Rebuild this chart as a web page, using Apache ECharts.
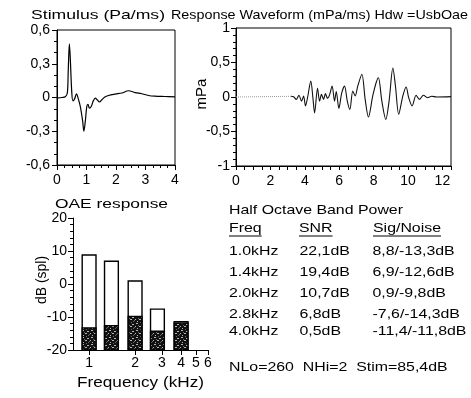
<!DOCTYPE html>
<html>
<head>
<meta charset="utf-8">
<script src="https://cdn.jsdelivr.net/npm/echarts@6/dist/echarts.min.js"></script>
<style>
  html, body { margin: 0; padding: 0; background: #fff; }
  #chart { width: 471px; height: 398px; }
</style>
</head>
<body>
<div id="chart"></div>
<script>
// stimulus click (ms / Pa)
const stimMs = [0, 0.17, 0.28, 0.35, 0.38, 0.42, 0.45, 0.5, 0.54, 0.6, 0.66, 0.72, 0.79, 0.87, 0.91, 0.96, 1.01, 1.05, 1.1, 1.16, 1.23, 1.3, 1.36, 1.44, 1.52, 1.61, 1.75, 1.97, 2.2, 2.42, 2.65, 2.87, 3.1, 3.32, 3.66, 4.0]
const stimPa = [-0.005, 0, 0.006, 0.04, 0.23, 0.476, 0.35, 0.05, -0.03, -0.01, 0.033, -0.01, -0.08, -0.21, -0.3, -0.21, -0.08, -0.06, -0.095, -0.08, -0.03, -0.006, -0.02, -0.04, -0.02, 0.003, 0.018, 0.03, 0.04, 0.06, 0.044, 0.033, 0.018, 0.012, 0.009, 0.006]

// response waveform (ms / mPa)
const leadMs = [0, 3.2]
const leadPa = [0, 0.01]
const respMs = [3.2, 3.35, 3.5, 3.66, 3.81, 3.93, 4.04, 4.16, 4.35, 4.47, 4.57, 4.74, 4.86, 4.97, 5.09, 5.2, 5.32, 5.44, 5.59, 5.73, 5.83, 5.98, 6.15, 6.31, 6.47, 6.62, 6.79, 6.93, 7.08, 7.32, 7.51, 7.7, 7.95, 8.15, 8.28, 8.48, 8.71, 8.9, 9.12, 9.27, 9.46, 9.7, 9.89, 10.04, 10.24, 10.47, 10.66, 10.9, 11.13, 11.38, 11.67, 12.5]
const respPa = [0.01, 0.005, -0.035, 0.025, -0.06, 0.015, -0.13, -0.01, 0.23, -0.01, -0.23, 0.125, -0.06, 0.04, -0.035, 0.05, -0.02, 0.03, 0.16, -0.06, 0.08, -0.165, 0.063, 0.16, -0.06, -0.18, 0.087, 0.015, 0.16, 0.33, -0.035, -0.29, 0.015, 0.21, 0.28, -0.06, -0.325, -0.06, 0.42, 0.16, -0.25, 0.015, 0.145, -0.01, -0.13, 0.025, -0.035, 0.025, -0.01, 0.01, 0, 0.005]

// half octave bands
const bandKHz = ['1.0', '1.4', '2.0', '2.8', '4.0']
const signalDb = [8.8, 6.9, 0.9, -7.6, -11.4]
const noiseDb = [-13.3, -12.6, -9.8, -14.3, -11.8]
const snrDb = [22.1, 19.4, 10.7, 6.8, 0.5]
const freqTicks = [1, 2, 3, 4, 5, 6]

// axis ticks
const stimYTicks = [-0.6, -0.3, 0, 0.3, 0.6]
const stimXTicks = [0, 1, 2, 3, 4]
const respYTicks = [-1, -0.5, 0, 0.5, 1]
const respXMax = 12.5
const oaeYTicks = [-20, -10, 0, 10, 20]

const footer = 'NLo=260  NHi=2  Stim=85,4dB'

const comma = (v) => String(+(+v).toFixed(2)).replace('.', ',')
const zip = (a, b) => a.map((x, i) => [x, b[i]])
const log2 = (f) => Math.log(f) / Math.LN2

const FONT = '"Liberation Sans", Arial, sans-serif'
const measureCtx = document.createElement('canvas').getContext('2d')
const textWidth = (text, size) => {
  measureCtx.font = size + 'px ' + FONT
  return measureCtx.measureText(text).width
}
// text stretched to a given width (the scan is wider than the font)
const stretched = (text, x, y, w, size) => ({
  type: 'text', x: x, y: y, scaleX: w / textWidth(text, size), silent: true,
  style: { text: text, fontSize: size, fontFamily: FONT, fill: '#000', align: 'left', verticalAlign: 'middle' }
})

// noise texture (dark stipple)
const pat = document.createElement('canvas')
pat.width = 9; pat.height = 7
const pctx = pat.getContext('2d')
pctx.fillStyle = '#111'; pctx.fillRect(0, 0, 9, 7)
pctx.fillStyle = '#b5b5b5'
pctx.fillRect(1, 1, 2, 1); pctx.fillRect(6, 2, 2, 1); pctx.fillRect(0, 4, 1, 1)
pctx.fillRect(4, 4, 2, 1); pctx.fillRect(2, 6, 1, 1)
pctx.fillStyle = '#666'
pctx.fillRect(5, 0, 1, 1); pctx.fillRect(3, 3, 1, 1); pctx.fillRect(8, 5, 1, 1); pctx.fillRect(7, 6, 1, 1)

const barOct = 0.3
const barRender = (fill, stroke) => (params, api) => {
  const x = api.value(0)
  const top = api.coord([x, api.value(1)])
  const base = api.coord([x, oaeYTicks[0]])
  const w = api.size([barOct, 0])[0]
  return {
    type: 'rect',
    shape: { x: top[0] - w / 2, y: top[1], width: w, height: base[1] - top[1] },
    style: { fill: fill, stroke: stroke, lineWidth: 1.4 }
  }
}

const labelStyle = { color: '#000', fontSize: 14, fontFamily: FONT }
const lineAxis = { show: true, onZero: false, lineStyle: { color: '#000', width: 1 } }

const myChart = echarts.init(document.getElementById('chart'), null, { renderer: 'canvas' })

// table texts
const tScale = 174 / textWidth('Half Octave Band Power', 13)
const tText = (text, x, y) => stretched(text, x, y, textWidth(text, 13) * tScale, 13)
const underline = (text, x, y) => ({
  type: 'line', silent: true,
  shape: { x1: x, y1: y, x2: x + textWidth(text, 13) * tScale, y2: y },
  style: { stroke: '#000', lineWidth: 1 }
})
const rowY = [251, 272.5, 293.5, 314, 331.5]
const graphics = [
  stretched('Stimulus (Pa/ms)', 31, 15.5, 134, 13),
  stretched('Response Waveform (mPa/ms) Hdw =UsbOae', 171, 15.5, 297, 13),
  stretched('OAE response', 55, 204, 113, 13),
  stretched('Frequency (kHz)', 77, 383, 127, 14),
  {
    type: 'text', x: 42, y: 280, rotation: Math.PI / 2, silent: true,
    style: { text: 'dB (spl)', fontSize: 14, fontFamily: FONT, fill: '#000', align: 'center', verticalAlign: 'middle' }
  },
  {
    type: 'text', x: 202, y: 94, rotation: Math.PI / 2, silent: true,
    style: { text: 'mPa', fontSize: 15, fontFamily: FONT, fill: '#000', align: 'center', verticalAlign: 'middle' }
  },
  tText('Half Octave Band Power', 229, 210),
  tText('Freq', 229, 228), underline('Freq', 229, 236),
  tText('SNR', 299, 228), underline('SNR', 299, 236),
  tText('Sig/Noise', 373, 228), underline('Sig/Noise', 373, 236),
  tText(footer, 229, 367)
]
bandKHz.forEach((f, i) => {
  graphics.push(tText(f + 'kHz', 229, rowY[i]))
  graphics.push(tText(comma(snrDb[i]) + 'dB', 299.5, rowY[i]))
  graphics.push(tText(comma(signalDb[i]) + '/' + comma(noiseDb[i]) + 'dB', 372.5, rowY[i]))
})

let option = {
  animation: false,
  backgroundColor: '#fff',
  grid: [
    { left: 57, top: 30, width: 118, height: 135, show: true, borderColor: '#000', borderWidth: 1 },
    { left: 236, top: 28, width: 215, height: 138, show: true, borderColor: '#000', borderWidth: 1 },
    { left: 73, top: 218, width: 135, height: 132 }
  ],
  xAxis: [
    {
      gridIndex: 0, type: 'value', min: stimXTicks[0], max: stimXTicks[stimXTicks.length - 1], interval: 1,
      axisLine: lineAxis, axisTick: { length: 5, lineStyle: { color: '#000' } },
      minorTick: { show: true, splitNumber: 4, length: 3, lineStyle: { color: '#000' } },
      axisLabel: Object.assign({ margin: 8 }, labelStyle), splitLine: { show: false }
    },
    {
      gridIndex: 1, type: 'value', min: 0, max: respXMax, interval: 0.5,
      axisLine: lineAxis, axisTick: { length: 4, lineStyle: { color: '#000' } },
      axisLabel: Object.assign({ margin: 8, formatter: (v) => (v % 2 === 0 ? String(v) : '') }, labelStyle),
      splitLine: { show: false }
    },
    {
      gridIndex: 2, type: 'value', min: -0.35, max: log2(freqTicks[freqTicks.length - 1]),
      axisLine: lineAxis,
      axisTick: { length: 5, lineStyle: { color: '#000' }, customValues: freqTicks.map(log2) },
      axisLabel: Object.assign({ margin: 6, customValues: freqTicks.map(log2), formatter: (v) => String(Math.round(Math.pow(2, v))) }, labelStyle),
      splitLine: { show: false }
    }
  ],
  yAxis: [
    {
      gridIndex: 0, type: 'value', min: stimYTicks[0], max: stimYTicks[stimYTicks.length - 1], interval: 0.3,
      axisLine: lineAxis, axisTick: { length: 5, lineStyle: { color: '#000' } },
      minorTick: { show: true, splitNumber: 3, length: 3, lineStyle: { color: '#000' } },
      axisLabel: Object.assign({ margin: 7, formatter: comma }, labelStyle), splitLine: { show: false }
    },
    {
      gridIndex: 1, type: 'value', min: respYTicks[0], max: respYTicks[respYTicks.length - 1], interval: 0.5,
      axisLine: lineAxis, axisTick: { length: 5, lineStyle: { color: '#000' } },
      minorTick: { show: true, splitNumber: 5, length: 3, lineStyle: { color: '#000' } },
      axisLabel: Object.assign({ margin: 6, formatter: comma }, labelStyle), splitLine: { show: false }
    },
    {
      gridIndex: 2, type: 'value', min: oaeYTicks[0], max: oaeYTicks[oaeYTicks.length - 1], interval: 10,
      axisLine: lineAxis, axisTick: { length: 5, lineStyle: { color: '#000' } },
      minorTick: { show: true, splitNumber: 5, length: 3, lineStyle: { color: '#000' } },
      axisLabel: Object.assign({ margin: 6 }, labelStyle), splitLine: { show: false }
    }
  ],
  series: [
    {
      name: 'stimulus', type: 'line', xAxisIndex: 0, yAxisIndex: 0, data: zip(stimMs, stimPa),
      smooth: 0.35, symbol: 'none', lineStyle: { color: '#000', width: 1.2 }
    },
    {
      name: 'lead', type: 'line', xAxisIndex: 1, yAxisIndex: 1, data: zip(leadMs, leadPa),
      symbol: 'none', lineStyle: { color: '#999', width: 1, type: 'dotted' }
    },
    {
      name: 'response', type: 'line', xAxisIndex: 1, yAxisIndex: 1, data: zip(respMs, respPa),
      smooth: 0.3, symbol: 'none', lineStyle: { color: '#111', width: 1.1 }
    },
    {
      name: 'signal', type: 'custom', xAxisIndex: 2, yAxisIndex: 2, clip: true,
      data: zip(bandKHz.map((f) => log2(+f)), signalDb), renderItem: barRender('#fff', '#000')
    },
    {
      name: 'noise', type: 'custom', xAxisIndex: 2, yAxisIndex: 2, clip: true,
      data: zip(bandKHz.map((f) => log2(+f)), noiseDb), renderItem: barRender({ image: pat, repeat: 'repeat' }, '#000')
    }
  ],
  graphic: graphics
}
myChart.setOption(option)
</script>
</body>
</html>
